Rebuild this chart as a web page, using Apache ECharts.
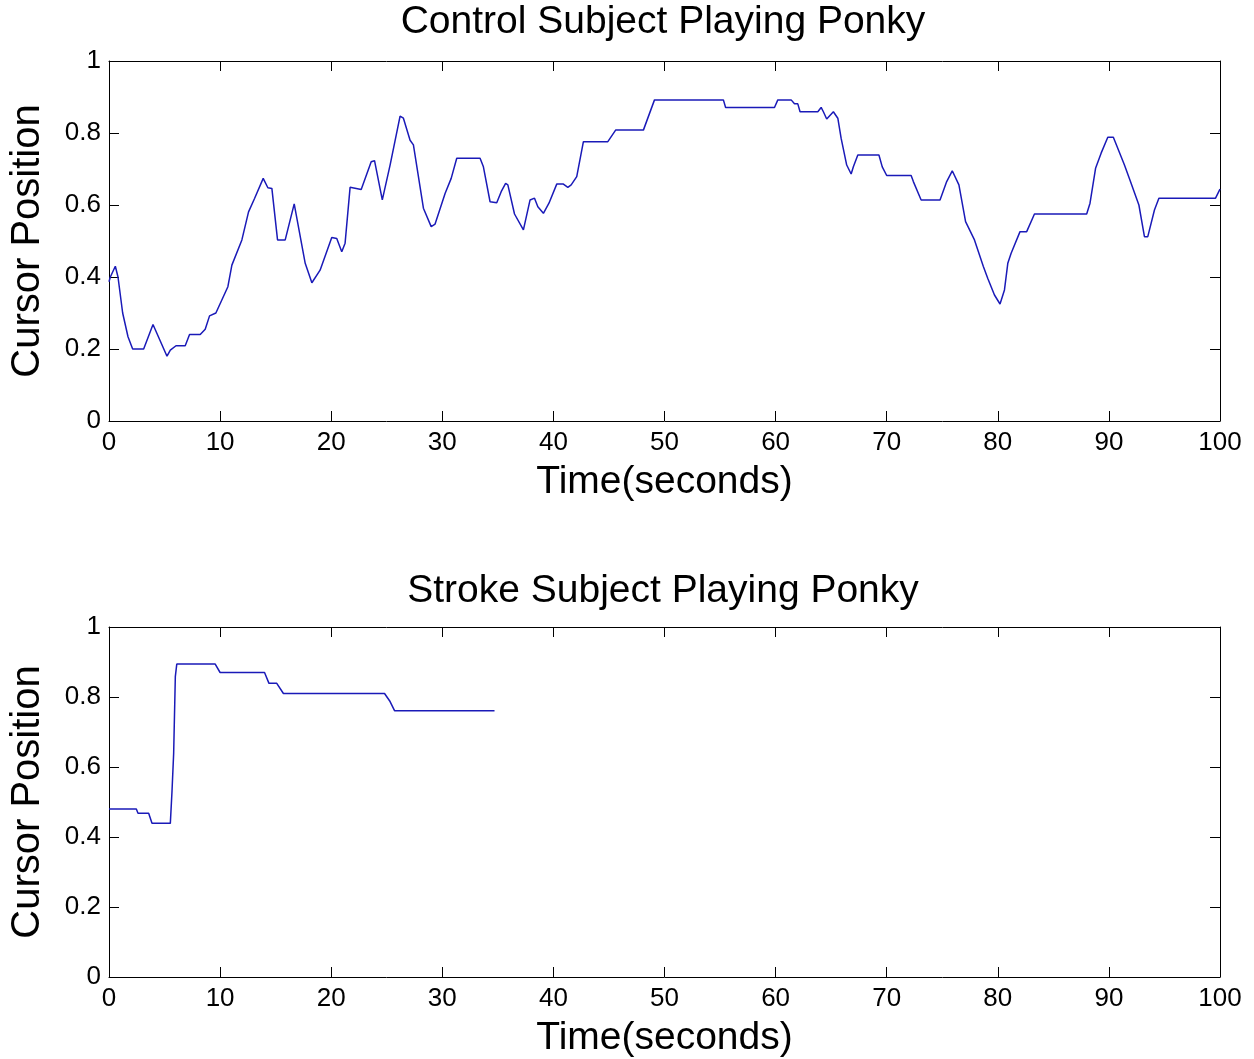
<!DOCTYPE html>
<html>
<head>
<meta charset="utf-8">
<script src="https://cdn.jsdelivr.net/npm/echarts@6/dist/echarts.min.js"></script>
<style>html,body{margin:0;padding:0;background:#fff;}#c{width:1254px;height:1059px;}</style>
</head>
<body>
<div id="c"></div>
<script>
const controlTime = [0,0.12,0.57,0.81,1.23,1.71,2.13,3.12,3.96,5.22,5.52,6.03,6.86,7.25,8.21,8.66,9.05,9.62,10.7,11.06,11.96,12.56,13.1,13.88,14.3,14.66,15.17,15.86,16.67,17.66,18.26,19.0,20.05,20.5,20.95,21.25,21.7,22.7,23.6,23.9,24.6,25.3,26.2,26.5,27.1,27.4,28.3,29.0,29.35,30.25,30.8,31.3,33.4,33.7,34.3,34.9,35.3,35.7,35.9,36.5,37.3,37.9,38.3,38.6,39.1,39.6,40.3,40.9,41.3,41.6,42.1,42.7,44.9,45.6,48.1,49.1,55.3,55.5,59.9,60.2,61.4,61.7,62.0,62.2,63.8,64.1,64.3,64.6,65.2,65.6,65.9,66.4,66.8,67.0,67.4,69.3,69.6,70.0,72.2,72.4,73.1,74.8,75.4,75.9,76.5,77.1,77.9,78.7,79.1,79.7,80.2,80.6,80.9,81.2,82.0,82.6,83.3,88.0,88.3,88.8,89.3,89.9,90.4,91.4,91.9,92.7,93.2,93.5,94.1,94.5,99.6,100];
const controlPos = [0.387,0.40,0.43,0.40,0.30,0.234,0.20,0.20,0.268,0.18,0.197,0.209,0.209,0.24,0.24,0.255,0.292,0.30,0.373,0.433,0.503,0.581,0.618,0.674,0.648,0.646,0.503,0.503,0.603,0.438,0.384,0.419,0.51,0.507,0.47,0.494,0.649,0.643,0.72,0.723,0.614,0.711,0.847,0.841,0.78,0.767,0.591,0.54,0.547,0.632,0.674,0.73,0.73,0.706,0.609,0.606,0.637,0.66,0.656,0.575,0.531,0.614,0.619,0.595,0.577,0.605,0.658,0.658,0.649,0.656,0.679,0.776,0.776,0.808,0.808,0.892,0.892,0.871,0.871,0.892,0.892,0.881,0.881,0.859,0.859,0.871,0.859,0.839,0.859,0.841,0.785,0.711,0.686,0.706,0.739,0.739,0.706,0.682,0.682,0.665,0.614,0.614,0.665,0.695,0.656,0.554,0.503,0.429,0.396,0.35,0.325,0.364,0.438,0.466,0.526,0.526,0.575,0.575,0.605,0.702,0.744,0.788,0.788,0.711,0.669,0.60,0.512,0.512,0.586,0.619,0.619,0.644];
const strokeTime = [0,2.46,2.61,3.57,3.87,5.52,5.67,5.82,5.97,6.1,9.56,10.0,14.0,14.4,15.1,15.7,24.8,25.3,25.7,34.7];
const strokePos = [0.48,0.48,0.468,0.468,0.439,0.439,0.53,0.639,0.858,0.894,0.894,0.87,0.87,0.839,0.839,0.81,0.81,0.787,0.761,0.761];
const titles = ['Control Subject Playing Ponky', 'Stroke Subject Playing Ponky'];
const xName = 'Time(seconds)';
const yName = 'Cursor Position';

const FONT = "'Liberation Sans', Arial, sans-serif";
const zip = (a, b) => a.map((v, i) => [v, b[i]]);
const chart = echarts.init(document.getElementById('c'), null, {renderer: 'canvas'});

const grids = [
  {left: 107, width: 1113, top: 61, height: 360},
  {left: 107, width: 1113, top: 627, height: 350}
];
const lineStyle = {color: '#000', width: 1};
function xAx(g, pos, labels) {
  return {
    type: 'value', gridIndex: g, position: pos, min: 0, max: 100, interval: 10,
    name: labels ? xName : '', nameLocation: 'middle', nameGap: 42,
    nameTextStyle: {fontFamily: FONT, fontSize: 39, color: '#000'},
    axisLine: {show: true, onZero: false, lineStyle},
    axisTick: {show: true, inside: true, length: 10, lineStyle},
    axisLabel: {show: labels, fontFamily: FONT, fontSize: 26, color: '#000', margin: 9},
    splitLine: {show: false}
  };
}
function yAx(g, pos, labels) {
  return {
    type: 'value', gridIndex: g, position: pos, min: 0, max: 1, interval: 0.2,
    name: labels ? yName : '', nameLocation: 'middle', nameGap: 61,
    nameTextStyle: {fontFamily: FONT, fontSize: 40, color: '#000'},
    axisLine: {show: true, onZero: false, lineStyle},
    axisTick: {show: true, inside: true, length: 10, lineStyle},
    axisLabel: {show: labels, fontFamily: FONT, fontSize: 26, color: '#000', margin: 8},
    splitLine: {show: false}
  };
}
const titleStyle = {fontFamily: FONT, fontSize: 39, fontWeight: 'normal', color: '#000'};

chart.setOption({
  animation: false,
  backgroundColor: '#fff',
  title: [
    {text: titles[0], left: 663, textAlign: 'center', top: 3, padding: 0, textStyle: titleStyle},
    {text: titles[1], left: 663, textAlign: 'center', top: 572, padding: 0, textStyle: titleStyle}
  ],
  grid: grids,
  xAxis: [xAx(0, 'bottom', true), xAx(0, 'top', false), xAx(1, 'bottom', true), xAx(1, 'top', false)],
  yAxis: [yAx(0, 'left', true), yAx(0, 'right', false), yAx(1, 'left', true), yAx(1, 'right', false)],
  series: [
    {type: 'line', xAxisIndex: 0, yAxisIndex: 0, data: zip(controlTime, controlPos), showSymbol: false, lineStyle: {color: '#1a1ab8', width: 1.5}},
    {type: 'line', xAxisIndex: 2, yAxisIndex: 2, data: zip(strokeTime, strokePos), showSymbol: false, lineStyle: {color: '#1a1ab8', width: 1.5}}
  ]
});
</script>
</body>
</html>
